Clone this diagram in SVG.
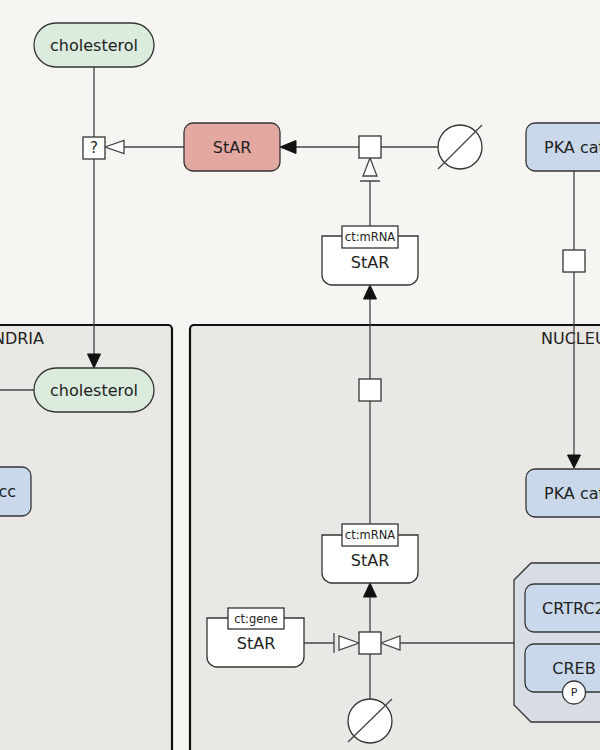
<svg xmlns="http://www.w3.org/2000/svg" width="600" height="750" viewBox="0 0 600 750">
<style>
text{font-family:"DejaVu Sans",sans-serif;fill:#222}
.lbl{font-size:16px}
.ui{font-size:11.5px}
.comp{fill:#e9e8e4;stroke:#111;stroke-width:2.2}
.node{stroke:#333;stroke-width:1.3}
.simple{fill:#dbebdd}
.red{fill:#e3a8a0}
.blue{fill:#c9d9eb}
.white{fill:#fff}
.cplx{fill:#d8dde4;stroke:#333;stroke-width:1.3}
.edge{fill:none;stroke:#444;stroke-width:1.3}
.open{fill:#fff;stroke:#444;stroke-width:1.3}
.fill{fill:#111;stroke:#111;stroke-width:1}
.pn{fill:#fff;stroke:#333;stroke-width:1.3}
</style>
<rect width="600" height="750" fill="#f6f5f1"/>
<g id="mitochondria">
<rect class="comp" x="-20" y="325" width="192" height="460" rx="4"/>
<text class="lbl" x="44" y="344" text-anchor="end">MITOCHONDRIA</text>
</g>
<g id="nucleus">
<rect class="comp" x="190" y="325" width="440" height="460" rx="4"/>
<text class="lbl" x="541" y="344">NUCLEUS</text>
</g>
<g id="connectors">
<path class="edge" d="M94,67V137M94,159V355M0,390H34"/>
<path class="edge" d="M124,147H184M296,147H359M381,147H438"/>
<path class="edge" d="M370,181V226M370,299V379M370,401V524M370,597V632M370,654V699"/>
<path class="edge" d="M304,643H334M400,643H514"/>
<path class="edge" d="M574,171V250M574,272V456"/>
<path class="edge" d="M334,633V653M360,181H380"/>
<polygon class="open" points="105,147 124,140.5 124,153.5"/>
<polygon class="fill" points="280,147 296,140.5 296,153.5"/>
<polygon class="open" points="370,158 363,176 377,176"/>
<polygon class="fill" points="370,285 363.5,299 376.5,299"/>
<polygon class="fill" points="370,583 363.5,597 376.5,597"/>
<polygon class="open" points="359,643 339,636 339,650"/>
<polygon class="open" points="381,643 400,636 400,650"/>
<polygon class="fill" points="94,368 87.5,354 100.5,354"/>
<polygon class="fill" points="574,468 567.5,455 580.5,455"/>
</g>
<g id="pn_top">
<rect class="pn" x="359" y="136" width="22" height="22"/>
</g>
<g id="pn_uncertain">
<rect class="pn" x="83" y="137" width="22" height="22"/>
<text x="94" y="148" font-size="15" text-anchor="middle" dominant-baseline="central">?</text>
</g>
<g id="pn_mid">
<rect class="pn" x="359" y="379" width="22" height="22"/>
</g>
<g id="pn_low">
<rect class="pn" x="359" y="632" width="22" height="22"/>
</g>
<g id="pn_pka">
<rect class="pn" x="563" y="250" width="22" height="22"/>
</g>
<g id="sink_top">
<circle class="pn" cx="460" cy="147" r="22"/>
<line class="edge" x1="438" y1="169" x2="482" y2="125"/>
</g>
<g id="source_bottom">
<circle class="pn" cx="370" cy="721" r="22"/>
<line class="edge" x1="348" y1="742" x2="392" y2="699"/>
</g>
<g id="cholesterol_cyt">
<rect class="node simple" x="34" y="23" width="120" height="44" rx="22"/>
<text class="lbl" x="94" y="45" text-anchor="middle" dominant-baseline="central">cholesterol</text>
</g>
<g id="cholesterol_mito">
<rect class="node simple" x="34" y="368" width="120" height="44" rx="22"/>
<text class="lbl" x="94" y="390" text-anchor="middle" dominant-baseline="central">cholesterol</text>
</g>
<g id="star_protein">
<rect class="node red" x="184" y="123" width="96" height="48" rx="9"/>
<text class="lbl" x="232" y="147" text-anchor="middle" dominant-baseline="central">StAR</text>
</g>
<g id="star_mrna_cyt">
<path class="node white" d="M322,236H418V275A10,10 0 0 1 408,285H332A10,10 0 0 1 322,275Z"/>
<rect class="node white" x="342" y="226" width="56" height="22"/>
<text class="ui" x="370" y="237" text-anchor="middle" dominant-baseline="central">ct:mRNA</text>
<text class="lbl" x="370" y="262" text-anchor="middle" dominant-baseline="central">StAR</text>
</g>
<g id="star_mrna_nuc">
<path class="node white" d="M322,535H418V573A10,10 0 0 1 408,583H332A10,10 0 0 1 322,573Z"/>
<rect class="node white" x="342" y="524" width="56" height="22"/>
<text class="ui" x="370" y="535" text-anchor="middle" dominant-baseline="central">ct:mRNA</text>
<text class="lbl" x="370" y="560" text-anchor="middle" dominant-baseline="central">StAR</text>
</g>
<g id="star_gene">
<path class="node white" d="M207,618H304V657A10,10 0 0 1 294,667H217A10,10 0 0 1 207,657Z"/>
<rect class="node white" x="228" y="608" width="56" height="21"/>
<text class="ui" x="256" y="618.5" text-anchor="middle" dominant-baseline="central">ct:gene</text>
<text class="lbl" x="256" y="643" text-anchor="middle" dominant-baseline="central">StAR</text>
</g>
<g id="pka_cyt">
<rect class="node blue" x="526" y="123" width="110" height="48" rx="9"/>
<text class="lbl" x="544" y="147" dominant-baseline="central">PKA cat</text>
</g>
<g id="pka_nuc">
<rect class="node blue" x="526" y="469" width="110" height="48" rx="9"/>
<text class="lbl" x="544" y="493" dominant-baseline="central">PKA cat</text>
</g>
<g id="scc">
<rect class="node blue" x="-70" y="467" width="101" height="49" rx="9"/>
<text class="lbl" x="16" y="491.5" text-anchor="end" dominant-baseline="central">cc</text>
</g>
<g id="complex">
<path class="cplx" d="M514,580L531,563H630V722H531L514,705Z"/>
<g id="crtrc2">
<rect class="node blue" x="525" y="584" width="110" height="48" rx="9"/>
<text class="lbl" x="542" y="608" dominant-baseline="central">CRTRC2</text>
</g>
<g id="creb">
<rect class="node blue" x="525" y="644" width="100" height="48" rx="9"/>
<text class="lbl" x="574" y="668" text-anchor="middle" dominant-baseline="central">CREB</text>
<circle class="pn" cx="574" cy="692.5" r="11.5"/>
<text x="574" y="692.5" font-size="11" text-anchor="middle" dominant-baseline="central">P</text>
</g>
</g>
</svg>
